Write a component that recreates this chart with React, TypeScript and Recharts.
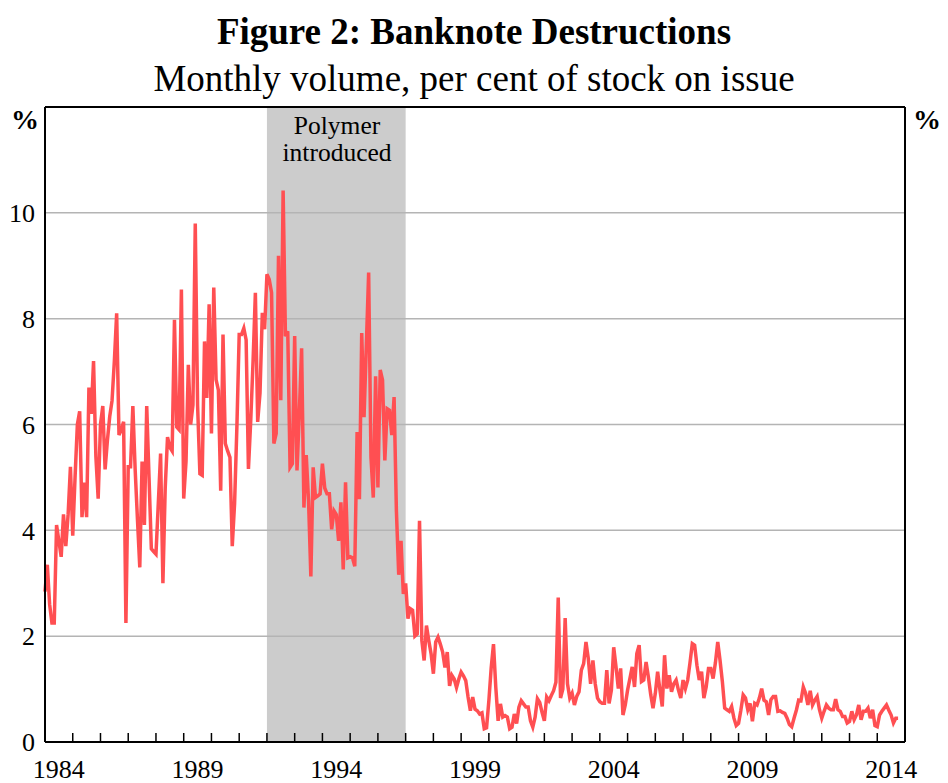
import {
  LineChart, Line, XAxis, YAxis, ReferenceArea, ReferenceLine,
} from "recharts";

// monthly values, per cent of stock on issue
const years = [
  1984, 1985, 1986, 1987, 1988, 1989, 1990, 1991, 1992, 1993, 1994,
  1995, 1996, 1997, 1998, 1999, 2000, 2001, 2002, 2003, 2004, 2005,
  2006, 2007, 2008, 2009, 2010, 2011, 2012, 2013, 2014,
];
const v1984 = [2.84, 3.35, 2.6, 2.25, 2.25, 4.1, 3.8, 3.5, 4.3, 3.7, 4.3, 5.2];
const v1985 = [3.9, 5.0, 6.0, 6.25, 4.25, 4.9, 4.25, 6.7, 6.2, 7.2, 5.4, 4.6];
const v1986 = [6.0, 6.35, 5.15, 5.7, 6.15, 6.45, 7.2, 8.1, 5.8, 5.9, 6.05, 2.25];
const v1987 = [5.2, 5.2, 6.35, 5.15, 4.2, 3.3, 5.3, 4.1, 6.35, 5.0, 3.65, 3.6];
const v1988 = [3.55, 4.5, 5.45, 3.0, 4.8, 5.76, 5.57, 5.5, 7.98, 5.95, 5.9, 8.55];
const v1989 = [4.6, 5.3, 7.13, 6.0, 6.37, 9.8, 6.37, 5.07, 5.04, 7.57, 6.5, 8.27];
const v1990 = [5.83, 8.59, 6.85, 6.65, 4.75, 7.7, 5.64, 5.5, 5.38, 3.7, 4.5, 5.95];
const v1991 = [7.7, 7.7, 7.82, 7.6, 5.16, 6.08, 7.2, 8.49, 6.05, 6.59, 8.11, 7.8];
const v1992 = [8.84, 8.74, 8.49, 5.64, 5.83, 9.19, 6.46, 10.42, 7.67, 7.76, 5.19, 5.26];
const v1993 = [7.67, 5.13, 6.2, 7.44, 4.43, 5.42, 4.56, 3.13, 5.19, 4.62, 4.65, 4.69];
const v1994 = [5.26, 4.8, 4.69, 4.69, 4.02, 4.37, 4.3, 3.8, 4.53, 3.26, 4.91, 3.48];
const v1995 = [3.5, 3.48, 3.32, 5.86, 4.59, 7.73, 6.14, 7.5, 8.87, 5.38, 4.62, 6.91];
const v1996 = [4.81, 7.03, 6.84, 5.32, 6.3, 6.27, 5.8, 6.52, 4.37, 3.16, 3.8, 2.8];
const v1997 = [3.0, 2.33, 2.52, 2.49, 2.0, 2.04, 4.18, 1.92, 1.54, 2.2, 1.92, 1.67];
const v1998 = [1.29, 1.89, 1.98, 1.85, 1.7, 1.41, 1.7, 1.06, 1.26, 1.19, 1.03, 1.19];
const v1999 = [1.32, 1.25, 1.16, 0.85, 0.59, 0.85, 0.62, 0.59, 0.53, 0.55, 0.25, 0.27];
const v2000 = [0.78, 1.4, 1.85, 1.03, 0.4, 0.72, 0.47, 0.5, 0.47, 0.25, 0.28, 0.53];
const v2001 = [0.35, 0.66, 0.78, 0.72, 0.66, 0.66, 0.4, 0.28, 0.47, 0.82, 0.75, 0.56];
const v2002 = [0.4, 0.85, 0.78, 0.88, 0.97, 1.13, 2.73, 0.83, 1.0, 2.34, 1.1, 0.83];
const v2003 = [0.92, 0.7, 0.86, 0.95, 1.36, 1.48, 1.89, 1.58, 1.1, 1.54, 1.1, 0.83];
const v2004 = [0.76, 0.73, 0.73, 1.36, 0.73, 0.98, 1.79, 1.42, 1.01, 1.39, 0.51, 0.7];
const v2005 = [0.98, 1.2, 1.42, 1.04, 1.67, 1.83, 1.14, 1.17, 1.51, 1.23, 0.9, 0.64];
const v2006 = [0.92, 1.33, 0.98, 0.67, 1.64, 1.01, 1.26, 0.95, 1.1, 1.17, 0.98, 0.83];
const v2007 = [1.17, 1.01, 1.17, 1.5, 1.86, 1.83, 1.45, 1.17, 1.33, 0.83, 1.04, 1.39];
const v2008 = [1.39, 1.2, 1.5, 1.89, 1.54, 1.14, 0.64, 0.61, 0.58, 0.67, 0.45, 0.31];
const v2009 = [0.35, 0.6, 0.89, 0.83, 0.61, 0.73, 0.39, 0.73, 0.7, 0.83, 1.01, 0.79];
const v2010 = [0.76, 0.51, 0.8, 0.86, 0.86, 0.58, 0.59, 0.56, 0.54, 0.45, 0.33, 0.29];
const v2011 = [0.45, 0.6, 0.79, 0.78, 1.04, 0.92, 0.7, 0.97, 0.7, 0.79, 0.86, 0.61];
const v2012 = [0.45, 0.58, 0.7, 0.64, 0.61, 0.61, 0.81, 0.61, 0.58, 0.48, 0.48, 0.36];
const v2013 = [0.39, 0.58, 0.42, 0.51, 0.7, 0.42, 0.58, 0.58, 0.64, 0.45, 0.61, 0.31];
const v2014 = [0.29, 0.51, 0.58, 0.64, 0.7, 0.6, 0.51, 0.36, 0.45, 0.45];

const series = [
  v1984, v1985, v1986, v1987, v1988, v1989, v1990, v1991, v1992, v1993, v1994,
  v1995, v1996, v1997, v1998, v1999, v2000, v2001, v2002, v2003, v2004, v2005,
  v2006, v2007, v2008, v2009, v2010, v2011, v2012, v2013, v2014,
];

const tickYears = [...years, 2015];
const labelYears = [1984, 1989, 1994, 1999, 2004, 2009, 2014];
const yTicks = [0, 2, 4, 6, 8, 10];
const gridLines = [2, 4, 6, 8, 10];
const polymerStart = 1992;
const polymerEnd = 1997;

const data = years.flatMap((yr, i) =>
  series[i].map((v, j) => ({ t: yr + j / 12, v }))
);

const W = 948;
const H = 783;
const LEFT = 45;
const RIGHT = 43;
const TOP = 107;
const BOTTOM = 41;
const YEAR_PX = (W - LEFT - RIGHT) / (2015 - 1984);
const FONT = '"Liberation Serif", "Times New Roman", Times, serif';
const RED = "#ff4f52";

function XTick(props: any) {
  const { x, y, payload } = props;
  const yr = payload.value;
  return (
    <g>
      <line x1={x} x2={x} y1={y} y2={y - 9} stroke="#000" strokeWidth={1.5} />
      {labelYears.includes(yr) && (
        <text x={x + YEAR_PX / 2} y={y + 36} textAnchor="middle" fontSize={26} fontFamily={FONT} fill="#000">
          {yr}
        </text>
      )}
    </g>
  );
}

const yTickStyle = { fontSize: 26, fontFamily: FONT, fill: "#000" };

export default function App() {
  return (
    <div style={{ position: "absolute", left: 0, top: 0, width: W, height: H, background: "#fff", fontFamily: FONT }}>
      <div style={{ position: "absolute", left: 0, width: W, top: 12, textAlign: "center", fontSize: 37, fontWeight: "bold", lineHeight: "40px" }}>
        Figure 2: Banknote Destructions
      </div>
      <div style={{ position: "absolute", left: 0, width: W, top: 59, textAlign: "center", fontSize: 37, lineHeight: "40px" }}>
        Monthly volume, per cent of stock on issue
      </div>
      <div style={{ position: "absolute", left: 11, top: 104, fontSize: 28, fontWeight: "bold", lineHeight: "32px" }}>%</div>
      <div style={{ position: "absolute", left: 913, top: 104, fontSize: 28, fontWeight: "bold", lineHeight: "32px" }}>%</div>
      <div style={{ position: "absolute", left: 0, top: 0 }}>
        <LineChart width={W} height={H} data={data} margin={{ top: TOP, right: 0, bottom: 0, left: 0 }}>
          <XAxis
            dataKey="t"
            type="number"
            domain={[1984, 2015]}
            ticks={tickYears}
            interval={0}
            height={BOTTOM}
            tickSize={0}
            tickMargin={0}
            tickLine={false}
            tick={<XTick />}
            axisLine={{ stroke: "#000", strokeWidth: 2 }}
            yAxisId="left"
          />
          <YAxis
            yAxisId="left"
            domain={[0, 12]}
            ticks={yTicks}
            width={LEFT}
            tickSize={0}
            tickMargin={10}
            tickLine={false}
            tick={yTickStyle}
            axisLine={{ stroke: "#000", strokeWidth: 2 }}
          />
          <YAxis
            yAxisId="right"
            orientation="right"
            domain={[0, 12]}
            ticks={yTicks}
            width={RIGHT}
            tickSize={0}
            tickMargin={13}
            tickLine={false}
            tick={{ ...yTickStyle, textAnchor: "start" }}
            axisLine={{ stroke: "#000", strokeWidth: 2 }}
          />
          <ReferenceArea
            yAxisId="left"
            x1={polymerStart}
            x2={polymerEnd}
            y1={0}
            y2={12}
            fill="#cccccc"
            fillOpacity={1}
            stroke="none"
          />
          {gridLines.map((g) => (
            <ReferenceLine key={g} yAxisId="left" y={g} stroke="#b4b4b4" strokeWidth={1.5} />
          ))}
          <ReferenceLine yAxisId="left" y={12} stroke="#000" strokeWidth={2} />
          <Line
            yAxisId="left"
            type="linear"
            dataKey="v"
            stroke={RED}
            strokeWidth={3.5}
            dot={false}
            isAnimationActive={false}
          />
        </LineChart>
      </div>
      <div style={{ position: "absolute", left: 237, width: 200, top: 112, textAlign: "center", fontSize: 25.5, lineHeight: "27px" }}>
        Polymer
        <br />
        introduced
      </div>
    </div>
  );
}
